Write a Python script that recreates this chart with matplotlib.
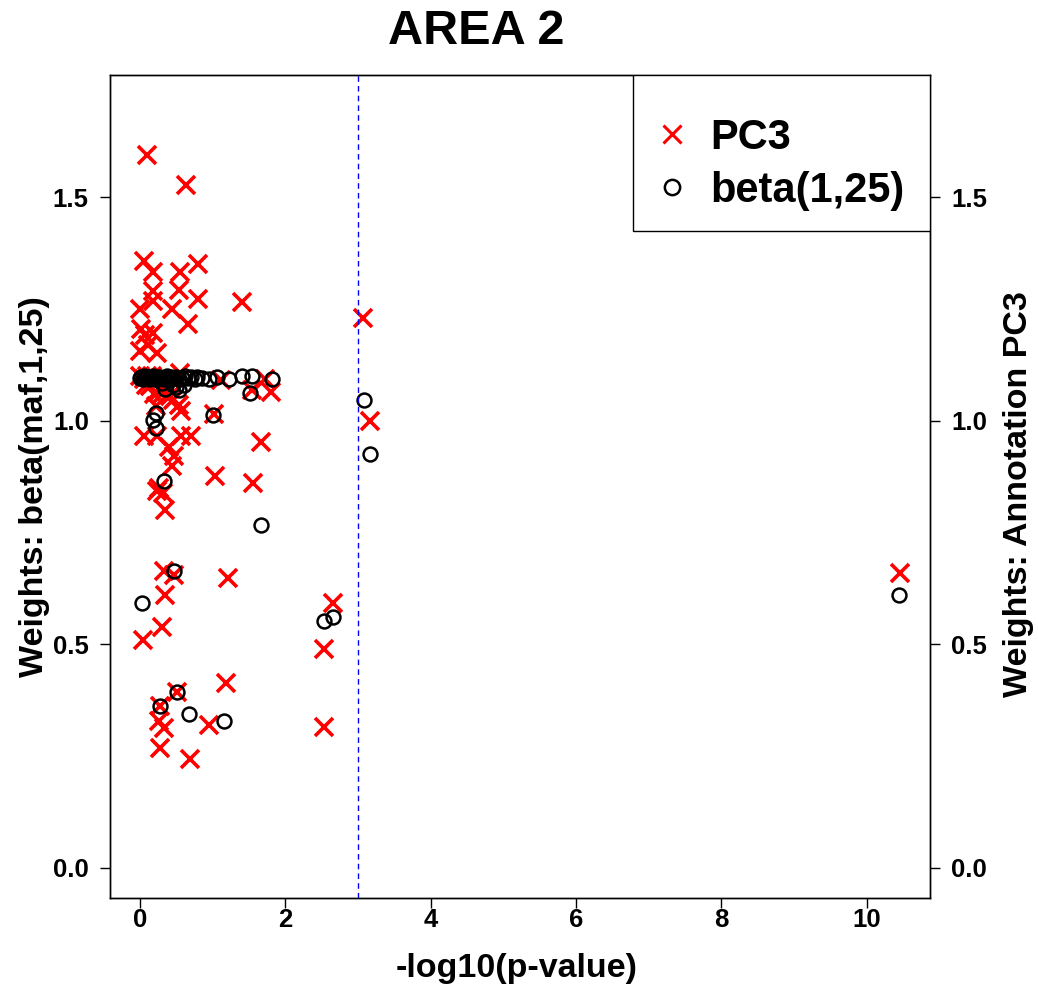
import matplotlib
matplotlib.use("Agg")
import matplotlib.pyplot as plt
from matplotlib.lines import Line2D
from matplotlib.patches import Rectangle

plt.rcParams['font.family'] = ['Liberation Sans', 'DejaVu Sans']
plt.rcParams['font.weight'] = 'bold'

# PC3 weights (red crosses)
pc3_x = [0.10, 0.63, 0.05, 0.18, 0.55, 0.80, 0.18, 0.53, 0.18, 0.80, 1.41, 0.00,
         0.44, 0.66, 0.02, 0.07, 0.18, 0.11, 0.00, 0.23, 3.07, 0.05, 0.16, 0.23,
         0.14, 0.28, 0.32, 0.41, 0.46, 0.53, 0.57, 0.55, 1.12, 1.54, 1.72, 1.80,
         1.02, 0.22, 0.05, 0.24, 0.56, 0.70, 0.40, 0.47, 0.44, 1.67, 1.03, 1.56,
         0.26, 0.31, 0.24, 0.34, 3.17, 0.33, 0.47, 1.21, 0.35, 0.30, 0.04, 2.65,
         2.53, 1.18, 0.51, 0.28, 0.95, 0.26, 0.33, 0.27, 0.69, 2.53, 10.45,
         0.00, 0.10, 0.08, 0.19, 0.35]
pc3_y = [1.595, 1.526, 1.358, 1.332, 1.332, 1.350, 1.291, 1.293, 1.267, 1.272, 1.265, 1.250,
         1.250, 1.215, 1.204, 1.192, 1.196, 1.170, 1.155, 1.151, 1.230, 1.092, 1.099, 1.088,
         1.077, 1.069, 1.062, 1.054, 1.047, 1.036, 1.021, 1.106, 1.090, 1.069, 1.092, 1.065,
         1.015, 1.032, 0.965, 0.965, 0.966, 0.965, 0.942, 0.920, 0.898, 0.953, 0.875, 0.860,
         0.849, 0.838, 0.842, 0.801, 1.000, 0.663, 0.655, 0.648, 0.611, 0.538, 0.510, 0.592,
         0.488, 0.413, 0.393, 0.361, 0.318, 0.327, 0.312, 0.268, 0.244, 0.314, 0.659,
         1.100, 1.100, 1.080, 1.060, 1.080]

# beta(1,25) weights (black circles)
beta_x = [0.00, 0.02, 0.04, 0.06, 0.08, 0.10, 0.12, 0.14, 0.16, 0.18, 0.20, 0.22,
          0.25, 0.28, 0.31, 0.34, 0.37, 0.40, 0.43, 0.46, 0.50, 0.54, 0.58, 0.62,
          0.66, 0.70, 0.75, 0.79, 0.85, 0.95, 1.06, 1.22, 1.41, 1.54, 1.82,
          0.45, 0.50, 0.53, 0.60, 0.30, 1.51, 0.35,
          0.22, 0.22, 1.00, 0.33, 1.67, 3.08, 3.16, 0.47, 0.03, 2.53, 2.66,
          0.51, 0.28, 0.67, 1.16, 10.44, 0.18]
beta_y = [1.096, 1.098, 1.094, 1.099, 1.095, 1.097, 1.093, 1.098, 1.095, 1.099, 1.094, 1.097,
          1.095, 1.098, 1.093, 1.096, 1.099, 1.094, 1.097, 1.095, 1.098, 1.093, 1.096, 1.099,
          1.095, 1.097, 1.094, 1.098, 1.096, 1.092, 1.097, 1.094, 1.099, 1.099, 1.092,
          1.080, 1.075, 1.069, 1.080, 1.085, 1.062, 1.070,
          1.017, 0.984, 1.013, 0.864, 0.767, 1.047, 0.926, 0.663, 0.592, 0.551, 0.560,
          0.393, 0.361, 0.344, 0.327, 0.611, 1.002]

x_ticks = [0, 2, 4, 6, 8, 10]
y_ticks = [0.0, 0.5, 1.0, 1.5]
y_ticklabels = ['0.0', '0.5', '1.0', '1.5']
threshold = 3

W, H = 1038, 986
fig = plt.figure(figsize=(W / 100, H / 100), dpi=100)
ax = fig.add_axes([0.1056, 0.0892, 0.7904, 0.8347])

ax.plot(pc3_x, pc3_y, linestyle='none', marker='x', color='red',
        markersize=12.5, markeredgewidth=2.6, label='PC3')
ax.plot(beta_x, beta_y, linestyle='none', marker='o', markerfacecolor='none',
        markeredgecolor='black', markersize=10, markeredgewidth=1.8, label='beta(1,25)')
ax.axvline(threshold, color='blue', linestyle=(0, (4, 3)), linewidth=1)

ax.set_xlim(-0.418, 10.87)
ax.set_ylim(-0.068, 1.773)
ax.set_xticks(x_ticks)
ax.set_yticks(y_ticks)
ax.set_yticklabels(y_ticklabels)
ax.tick_params(axis='x', direction='out', length=7, width=1, labelsize=18.5, pad=0)
ax.tick_params(axis='y', direction='out', length=7, width=1, labelsize=18.5, pad=8)

ax2 = ax.twinx()
ax2.set_ylim(ax.get_ylim())
ax2.set_yticks(y_ticks)
ax2.set_yticklabels(y_ticklabels)
ax2.tick_params(direction='out', length=7, width=1, labelsize=18.5, pad=8)

for a in (ax, ax2):
    for s in a.spines.values():
        s.set_linewidth(1)

fig.text(476 / W, 1 - 32 / H, 'AREA 2', fontsize=35, fontweight='bold',
         ha='center', va='center')
fig.text(517 / W, 1 - 968 / H, '-log10(p-value)', fontsize=24.5, fontweight='bold',
         ha='center', va='center')
fig.text(35 / W, 1 - 487 / H, 'Weights: beta(maf,1,25)', fontsize=24.5, fontweight='bold',
         ha='center', va='center', rotation=90)
fig.text(1019 / W, 1 - 494 / H, 'Weights: Annotation PC3', fontsize=24.5, fontweight='bold',
         ha='center', va='center', rotation=90)

# legend box drawn as a plain rectangle, entries without frame
ax2.add_patch(Rectangle((0.638, 0.8104), 0.362, 0.1896, transform=ax2.transAxes,
                        facecolor='white', edgecolor='black', linewidth=1, zorder=4))
handles = [Line2D([], [], linestyle='none', marker='x', color='red', markersize=13, markeredgewidth=2.2),
           Line2D([], [], linestyle='none', marker='o', markerfacecolor='none',
                  markeredgecolor='black', markersize=11, markeredgewidth=1.8)]
leg = ax2.legend(handles, ['PC3', 'beta(1,25)'], loc='upper left',
                 bbox_to_anchor=(0.6646, 0.948), frameon=False,
                 borderaxespad=0, borderpad=0, handlelength=0.8, handletextpad=0.53,
                 labelspacing=0.31, prop={'weight': 'bold', 'size': 30})
leg.set_zorder(5)

fig.savefig('out.png', dpi=100)
